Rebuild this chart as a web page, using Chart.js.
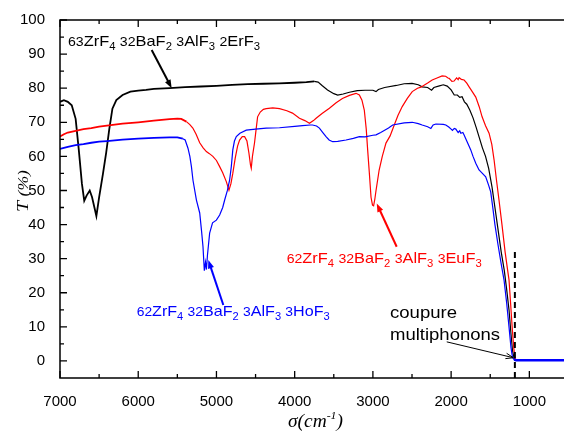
<!DOCTYPE html>
<html>
<head>
<meta charset="utf-8">
<script src="https://cdn.jsdelivr.net/npm/chart.js@4"></script>
<style>
  html, body { margin: 0; padding: 0; background: #fff; }
  #wrap { position: relative; width: 564px; height: 432px; }
</style>
</head>
<body>
<div id="wrap"><canvas id="chart"></canvas></div>
<script>
// Transmission spectra of fluoride glasses, T(%) vs wavenumber (cm-1), reversed x axis.

const SANS = '"Liberation Sans", Arial, sans-serif';
const SERIF = '"Liberation Serif", "Times New Roman", serif';

const xTicks = [7000, 6000, 5000, 4000, 3000, 2000, 1000];
const yTicks = [0, 10, 20, 30, 40, 50, 60, 70, 80, 90, 100];

// 63ZrF4 32BaF2 3AlF3 2ErF3 (black)
const erX = [7000, 6950, 6900, 6850, 6800, 6760, 6720, 6690, 6660, 6620, 6590, 6560, 6535, 6500, 6450, 6410,
  6370, 6330, 6280, 6200, 6100, 6000, 5900, 5800, 5600, 5400, 5200, 5000, 4800, 4600, 4400, 4200, 4000,
  3850, 3750, 3700, 3650, 3580, 3500, 3450, 3380, 3300, 3200, 3100, 3000, 2960, 2930, 2850, 2700, 2600,
  2500, 2420, 2370, 2300, 2250, 2220, 2150, 2100, 2050, 2000, 1960, 1920, 1890, 1860, 1830, 1800, 1760,
  1720, 1680, 1640, 1600, 1560, 1520, 1477, 1440, 1400, 1360, 1320, 1290, 1260, 1235, 1215, 1195, 1170, 557];
const erY = [76, 76.5, 76, 75, 71, 62, 52, 47, 48.5, 50, 48, 45, 42.5, 48, 55, 61,
  68, 74, 76.5, 78, 79, 79.3, 79.5, 79.8, 80, 80.3, 80.5, 80.7, 81, 81.2, 81.3, 81.4, 81.6,
  81.8, 82, 81.8, 80.8, 79.5, 78.4, 78, 78.3, 78.8, 79.3, 79.4, 79.4, 79, 79.6, 80.2, 80.8, 81.3,
  81.4, 81, 80.4, 80.2, 79.4, 80.2, 80.7, 81, 80.6, 79.5, 78, 78, 77.3, 77.5, 76, 75.3, 73.5,
  71.3, 68.5, 65.5, 62.5, 60, 56.5, 51, 45, 38.5, 32, 26.5, 21, 15, 8, 3, 0.8, 0.2, 0.2];

// 62ZrF4 32BaF2 3AlF3 3EuF3 (red)
const euX = [7000, 6950, 6900, 6800, 6700, 6600, 6500, 6400, 6300, 6200, 6000, 5800, 5600, 5500, 5450, 5384,
  5340, 5302, 5260, 5214, 5170, 5129, 5090, 5046, 5000, 4959, 4920, 4874, 4840, 4815, 4791, 4760, 4730,
  4704, 4670, 4640, 4610, 4585, 4565, 4555, 4540, 4513, 4490, 4474, 4440, 4400, 4364, 4280, 4194, 4100,
  4028, 3939, 3870, 3811, 3760, 3726, 3650, 3556, 3470, 3390, 3300, 3216, 3173, 3140, 3110, 3085, 3067,
  3045, 3024, 3005, 2991, 2975, 2960, 2920, 2880, 2833, 2780, 2727, 2680, 2625, 2560, 2497, 2430, 2387,
  2300, 2242, 2180, 2115, 2070, 2040, 2025, 1990, 1962, 1930, 1910, 1898, 1870, 1834, 1800, 1770, 1730,
  1685, 1640, 1604, 1560, 1515, 1480, 1451, 1420, 1388, 1350, 1310, 1280, 1260, 1240, 1220, 1200, 1185,
  1170, 557];
const euY = [65.8, 66.5, 67, 67.5, 68, 68.3, 68.7, 69, 69.3, 69.6, 70, 70.5, 70.9, 71.1, 71, 70.2,
  69.3, 68.3, 66.5, 64, 62.5, 61.4, 60.8, 60, 58.8, 57, 55.2, 52.6, 50.1, 52, 55, 59.5, 63,
  64.8, 65.8, 65.8, 64.5, 61, 57.5, 56.5, 60, 64, 68.5, 71.6, 73, 73.8, 74, 74.2, 74, 73.4,
  72.7, 71.2, 70.5, 69.7, 70.5, 71.2, 72.6, 74.1, 75.7, 77, 77.9, 78.5, 78, 76.5, 73.6, 68, 61.9,
  55, 48, 45.7, 45.5, 47.5, 50, 56, 60, 63.9, 66, 69.2, 72, 74.6, 77, 79, 80, 80.3,
  81.5, 82.4, 83, 83.6, 83.5, 83, 82.9, 82, 82.1, 83, 82.5, 83.1, 82.6, 82.4, 81.5, 80.4, 79,
  77.4, 74.5, 71.6, 69, 66.8, 63.5, 59, 53, 47.2, 40, 32, 27, 23.8, 17, 10, 4, 1,
  0.2, 0.2];

// 62ZrF4 32BaF2 3AlF3 3HoF3 (blue)
const hoX = [7000, 6950, 6900, 6800, 6700, 6600, 6500, 6400, 6200, 6000, 5800, 5600, 5500, 5430, 5400, 5364,
  5340, 5320, 5300, 5256, 5214, 5190, 5172, 5155, 5140, 5128, 5115, 5087, 5050, 5001, 4959, 4920, 4895,
  4860, 4832, 4810, 4791, 4770, 4746, 4700, 4619, 4500, 4364, 4194, 4000, 3900, 3800, 3772, 3720, 3684,
  3640, 3599, 3560, 3514, 3450, 3343, 3250, 3173, 3100, 3000, 2960, 2900, 2800, 2747, 2600, 2497, 2420,
  2370, 2300, 2259, 2230, 2195, 2100, 2068, 2030, 2000, 1983, 1960, 1940, 1910, 1890, 1876, 1850, 1834,
  1800, 1770, 1749, 1720, 1685, 1643, 1600, 1558, 1520, 1494, 1470, 1440, 1400, 1360, 1324, 1290, 1260,
  1235, 1215, 1195, 1170, 557];
const hoY = [62.2, 62.5, 62.8, 63.3, 63.6, 64, 64.3, 64.5, 64.9, 65.2, 65.4, 65.6, 65.6, 65.2, 64.8, 62.4,
  60, 57, 53, 47.2, 43.4, 38, 33.5, 26.5, 29, 26.8, 31, 37.5, 40.5, 41.3, 42.8, 45, 47.2,
  50, 53, 57, 61.9, 64.5, 65.8, 66.8, 67.7, 68, 68.3, 68.4, 68.8, 69, 69.2, 69.2, 68.9, 68.3,
  67, 65.8, 64.8, 64.3, 64.4, 64.8, 65.3, 65.8, 65.7, 66.2, 66.3, 67, 68.3, 69.2, 69.8, 70, 69.6,
  69.2, 68.7, 68.2, 69.2, 69.5, 69.4, 69.2, 68.6, 68, 67.6, 68.2, 68, 67, 67.5, 66.8, 67, 66.3,
  64.5, 63, 61.9, 60, 58, 56, 55, 54, 51.5, 49.6, 45.5, 40, 34, 28.5, 23.8, 17, 10,
  4, 1, 0.4, 0.2, 0.2];

// multiphonon cut-off marker
const cutX = [1185, 1185];
const cutY = [-5, 33];

const X_MIN = 557, X_MAX = 7000, Y_MIN = -5, Y_MAX = 100;

function pts(xs, ys) { return xs.map((x, i) => ({ x, y: ys[i] })); }

// label text, anchored in data units
const formulas = [
  { groups: [["63", "ZrF", "4"], ["32", "BaF", "2"], ["3", "AlF", "3"], ["2", "ErF", "3"]],
    x: 6898, y: 92.4, width: 192, color: "#000",
    arrow: { from: [5828, 91.2], to: [5572, 80.0] } },
  { groups: [["62", "ZrF", "4"], ["32", "BaF", "2"], ["3", "AlF", "3"], ["3", "EuF", "3"]],
    x: 4102, y: 28.6, width: 195, color: "#ff0000",
    arrow: { from: [2696, 33.5], to: [2951, 46.2] } },
  { groups: [["62", "ZrF", "4"], ["32", "BaF", "2"], ["3", "AlF", "3"], ["3", "HoF", "3"]],
    x: 6020, y: 13.3, width: 193, color: "#0000ff",
    arrow: { from: [4912, 16.4], to: [5104, 29.6] } },
];
const cutNote = { lines: ["coupure", "multiphonons"], widths: [67, 110], x: 2781, y: [12.5, 6.1],
  arrow: { from: [2056, 5.6], to: [1205, 0.95] } };

function richText(ctx, parts, x, y, width, color) {
  let w = 0;
  parts.forEach(p => { ctx.font = p.font; p.w = ctx.measureText(p.t).width; w += p.w; });
  const sx = width ? width / w : 1;
  ctx.save();
  ctx.translate(x, y);
  ctx.scale(sx, 1);
  ctx.fillStyle = color;
  ctx.textBaseline = "alphabetic";
  ctx.textAlign = "left";
  let cx = 0;
  parts.forEach(p => { ctx.font = p.font; ctx.fillText(p.t, cx, p.dy || 0); cx += p.w; });
  ctx.restore();
}

function formulaParts(groups) {
  const parts = [];
  groups.forEach((g, i) => {
    if (i) parts.push({ t: " ", font: `14px ${SANS}` });
    parts.push({ t: g[0], font: `12.5px ${SANS}` });
    parts.push({ t: g[1], font: `14.5px ${SANS}` });
    parts.push({ t: g[2], font: `10px ${SANS}`, dy: 4 });
  });
  return parts;
}

function arrow(ctx, x1, y1, x2, y2, color, lw, head, open) {
  const a = Math.atan2(y2 - y1, x2 - x1);
  ctx.save();
  ctx.strokeStyle = color; ctx.fillStyle = color; ctx.lineWidth = lw;
  ctx.beginPath();
  ctx.moveTo(x1, y1);
  ctx.lineTo(open ? x2 : x2 - Math.cos(a) * head * 0.8, open ? y2 : y2 - Math.sin(a) * head * 0.8);
  ctx.stroke();
  const hx1 = x2 - head * Math.cos(a - 0.35), hy1 = y2 - head * Math.sin(a - 0.35);
  const hx2 = x2 - head * Math.cos(a + 0.35), hy2 = y2 - head * Math.sin(a + 0.35);
  ctx.beginPath();
  if (open) {
    ctx.moveTo(hx1, hy1); ctx.lineTo(x2, y2); ctx.lineTo(hx2, hy2); ctx.stroke();
  } else {
    ctx.moveTo(x2, y2); ctx.lineTo(hx1, hy1); ctx.lineTo(hx2, hy2); ctx.closePath(); ctx.fill();
  }
  ctx.restore();
}

// box frame with inward major/minor ticks
const framePlugin = {
  id: "frame",
  afterDatasetsDraw(chart) {
    const { ctx, chartArea: a, scales: { x, y } } = chart;
    ctx.save();
    ctx.strokeStyle = "#000";
    ctx.lineWidth = 1.5;
    ctx.beginPath();
    ctx.moveTo(a.right + 2, a.top); ctx.lineTo(a.left, a.top); ctx.lineTo(a.left, a.bottom); ctx.lineTo(a.right + 2, a.bottom);
    ctx.stroke();
    ctx.lineWidth = 1.3;
    ctx.beginPath();
    for (let v = 7000; v >= X_MIN; v -= 500) {
      const px = x.getPixelForValue(v), len = v % 1000 === 0 ? 7 : 4;
      ctx.moveTo(px, a.bottom); ctx.lineTo(px, a.bottom - len);
      ctx.moveTo(px, a.top); ctx.lineTo(px, a.top + len);
    }
    for (let v = 0; v <= 100; v += 5) {
      const py = y.getPixelForValue(v), len = v % 10 === 0 ? 7 : 4;
      ctx.moveTo(a.left, py); ctx.lineTo(a.left + len, py);
    }
    ctx.stroke();
    ctx.restore();
  },
  afterDraw(chart) {
    const { ctx, scales: { x, y } } = chart;
    const P = (d) => [x.getPixelForValue(d[0]), y.getPixelForValue(d[1])];

    formulas.forEach(f => {
      richText(ctx, formulaParts(f.groups), x.getPixelForValue(f.x), y.getPixelForValue(f.y), f.width, f.color);
      const [x1, y1] = P(f.arrow.from), [x2, y2] = P(f.arrow.to);
      arrow(ctx, x1, y1, x2, y2, f.color, 2, 9, false);
    });

    cutNote.lines.forEach((t, i) => {
      richText(ctx, [{ t, font: `16px ${SANS}` }], x.getPixelForValue(cutNote.x), y.getPixelForValue(cutNote.y[i]), cutNote.widths[i], "#000");
    });
    {
      const [x1, y1] = P(cutNote.arrow.from), [x2, y2] = P(cutNote.arrow.to);
      arrow(ctx, x1, y1, x2, y2, "#000", 1, 8, true);
    }

    // axis titles
    richText(ctx, [
      { t: "σ", font: `italic 18px ${SERIF}` },
      { t: "(cm", font: `italic 18px ${SERIF}` },
      { t: "-1", font: `italic 11px ${SERIF}`, dy: -8 },
      { t: ")", font: `italic 18px ${SERIF}` },
    ], 288, 427, 55, "#000");

    ctx.save();
    ctx.translate(28, 212);
    ctx.rotate(-Math.PI / 2);
    richText(ctx, [
      { t: "T", font: `italic 17px ${SERIF}` },
      { t: " (%)", font: `italic 15px ${SERIF}` },
    ], 0, 0, 42, "#000");
    ctx.restore();
  },
};

// noisy high-wavenumber part and the flat zero tail look thicker in the original
const segWidth = (noisyFrom, flatWidth) => (c) => {
  const x0 = c.p0.parsed.x, y0 = c.p0.parsed.y, y1 = c.p1.parsed.y;
  if (x0 >= noisyFrom) return 1.8;
  if (y0 < 1 && y1 < 1) return flatWidth;
  return 1.2;
};

const line = (data, color, extra) => Object.assign({
  data, borderColor: color, borderWidth: 1.2, pointRadius: 0, fill: false, tension: 0,
}, extra || {});

new Chart(document.getElementById("chart"), {
  type: "line",
  data: {
    datasets: [
      line(pts(cutX, cutY), "#000", { borderDash: [6, 4], borderWidth: 2 }),
      line(pts(hoX, hoY), "#0000ff", { segment: { borderWidth: segWidth(5450, 2.6) } }),
      line(pts(euX, euY), "#ff0000", { segment: { borderWidth: segWidth(5450, 1.2) } }),
      line(pts(erX, erY), "#000", { segment: { borderWidth: segWidth(3800, 1.2) } }),
    ],
  },
  options: {
    responsive: true,
    maintainAspectRatio: false,
    animation: false,
    layout: { padding: { top: 20, right: 0, left: 0, bottom: 0 } },
    plugins: { legend: { display: false }, tooltip: { enabled: false } },
    scales: {
      x: {
        type: "linear", reverse: true, min: X_MIN, max: X_MAX,
        afterBuildTicks: s => { s.ticks = xTicks.map(v => ({ value: v })); },
        afterFit: s => { s.height = 54; },
        grid: { display: false }, border: { display: false },
        ticks: { font: { family: SANS, size: 15 }, color: "#000", padding: 7, maxRotation: 0, autoSkip: false,
          callback: v => String(v) },
      },
      y: {
        type: "linear", min: Y_MIN, max: Y_MAX,
        afterBuildTicks: s => { s.ticks = yTicks.map(v => ({ value: v })); },
        afterFit: s => { s.width = 60; },
        grid: { display: false }, border: { display: false },
        ticks: { font: { family: SANS, size: 15 }, color: "#000", padding: 7, autoSkip: false,
          callback: v => String(v) },
      },
    },
  },
  plugins: [framePlugin],
});
</script>
</body>
</html>
